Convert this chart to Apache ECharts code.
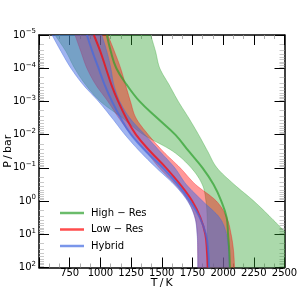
<!DOCTYPE html>
<html>
<head>
<meta charset="utf-8">
<script src="https://cdn.jsdelivr.net/npm/echarts@6/dist/echarts.min.js"></script>
<style>
html,body{margin:0;padding:0;background:#fff;}
#c{width:299px;height:301px;}
</style>
</head>
<body>
<div id="c"></div>
<script>
// Pressure grid (bar)
const pressure = [1e-5, 3.16e-5, 1e-4, 3.16e-4, 1e-3, 3.16e-3, 1e-2, 3.16e-2, 1e-1, 3.16e-1, 1, 3.16, 10, 31.6, 100];

// High-Res (green)
const highResMed = [1053, 1085, 1130, 1215, 1320, 1463, 1610, 1720, 1832, 1922, 1985, 2029, 2040, 2050, 2055];
const highResLo  = [630, 720, 790, 880, 1000, 1180, 1350, 1590, 1740, 1830, 1860, 1870, 1872, 1872, 1872];
const highResHi  = [1410, 1450, 1484, 1560, 1635, 1720, 1800, 1874, 1950, 2090, 2250, 2390, 2520, 2620, 2700];

// Low-Res (red)
const lowResMed = [947, 1000, 1045, 1090, 1145, 1210, 1290, 1405, 1535, 1650, 1748, 1815, 1855, 1868, 1874];
const lowResLo  = [793, 841, 890, 963, 1061, 1150, 1250, 1370, 1480, 1610, 1715, 1772, 1790, 1793, 1795];
const lowResHi  = [1061, 1115, 1165, 1205, 1245, 1290, 1390, 1510, 1650, 1775, 1945, 2030, 2065, 2085, 2093];

// Hybrid (blue)
const hybridMed = [890, 935, 985, 1035, 1095, 1165, 1250, 1370, 1510, 1630, 1730, 1810, 1860, 1878, 1885];
const hybridLo  = [606, 680, 760, 860, 985, 1095, 1200, 1320, 1455, 1600, 1710, 1770, 1788, 1793, 1793];
const hybridHi  = [1012, 1053, 1085, 1110, 1158, 1240, 1362, 1484, 1606, 1700, 1833, 1971, 2028, 2045, 2053];

const xTickMin = 500, xTickMax = 2500, xTickStep = 250;
const seriesNames = ['High \u2212 Res', 'Low \u2212 Res', 'Hybrid'];

const FONT = 'DejaVu Sans';
const GREEN = '#2ca02c', RED = '#ff0000', BLUE = '#4169e1';

function rgba(hex, a) {
  const n = parseInt(hex.slice(1), 16);
  return 'rgba(' + ((n >> 16) & 255) + ',' + ((n >> 8) & 255) + ',' + (n & 255) + ',' + a + ')';
}

// Catmull-Rom resampling of pixel points (already mapped through the axes)
function catmull(pts, n) {
  const out = [];
  const L = pts.length;
  for (let i = 0; i < L - 1; i++) {
    const p0 = pts[Math.max(i - 1, 0)], p1 = pts[i], p2 = pts[i + 1], p3 = pts[Math.min(i + 2, L - 1)];
    for (let k = 0; k < n; k++) {
      const t = k / n, t2 = t * t, t3 = t2 * t;
      const f = (a, b, c, d) => 0.5 * ((2 * b) + (-a + c) * t + (2 * a - 5 * b + 4 * c - d) * t2 + (-a + 3 * b - 3 * c + d) * t3);
      out.push([f(p0[0], p1[0], p2[0], p3[0]), f(p0[1], p1[1], p2[1], p3[1])]);
    }
  }
  out.push(pts[L - 1]);
  return out;
}

function band(lo, hi, color, alpha, z) {
  return {
    type: 'custom',
    coordinateSystem: 'cartesian2d',
    xAxisIndex: 0, yAxisIndex: 0,
    clip: true,
    silent: true,
    z: z,
    data: [[lo[0], pressure[0]]],
    encode: { x: 0, y: 1 },
    renderItem: function (params, api) {
      const left = pressure.map((p, i) => api.coord([lo[i], p]));
      const right = pressure.map((p, i) => api.coord([hi[i], p]));
      const pts = catmull(left, 8).concat(catmull(right, 8).reverse());
      return {
        type: 'polygon',
        shape: { points: pts },
        style: { fill: rgba(color, alpha), stroke: rgba(color, alpha), lineWidth: 0.8 }
      };
    }
  };
}

function line(name, med, color, z) {
  return {
    type: 'line',
    name: name,
    xAxisIndex: 0, yAxisIndex: 0,
    data: med.map((t, i) => [t, pressure[i]]),
    showSymbol: false,
    smooth: 0.4,
    clip: true,
    z: z,
    itemStyle: { color: rgba(color, 0.7) },
    lineStyle: { color: rgba(color, 0.7), width: 2 }
  };
}

const axisCommon = {
  axisLine: { show: true, onZero: false, lineStyle: { color: '#000', width: 1.5 } },
  splitLine: { show: false }
};

const option = {
  animation: false,
  backgroundColor: '#fff',
  grid: { left: 39, right: 14.5, top: 35, bottom: 33.5, containLabel: false, outerBoundsMode: 'none' },
  legend: {
    orient: 'vertical',
    left: 55,
    top: 202,
    icon: 'rect',
    itemWidth: 24,
    itemHeight: 2.5,
    itemGap: 4.5,
    data: seriesNames,
    textStyle: { fontFamily: FONT, fontSize: 10, color: '#000', lineHeight: 12, padding: [0, 0, 0, 2] }
  },
  xAxis: [
    Object.assign({}, axisCommon, {
      type: 'value', position: 'bottom', min: xTickMin, max: xTickMax, interval: xTickStep,
      name: 'T\u2009/\u2009K', nameLocation: 'middle', nameGap: 10, nameMoveOverlap: false,
      nameTextStyle: { fontFamily: FONT, fontSize: 11, color: '#000' },
      axisTick: { show: true, inside: true, length: 10, lineStyle: { color: '#000', width: 1 } },
      minorTick: { show: true, splitNumber: 3, length: 4, lineStyle: { color: '#999', width: 0.8 } },
      axisLabel: {
        fontFamily: FONT, fontSize: 10, color: '#000', margin: 1,
        formatter: v => (v === xTickMin ? '' : String(v))
      }
    }),
    Object.assign({}, axisCommon, {
      type: 'value', position: 'top', min: xTickMin, max: xTickMax, interval: xTickStep,
      axisTick: { show: true, inside: true, length: 10, lineStyle: { color: '#000', width: 1 } },
      minorTick: { show: true, splitNumber: 3, length: 4, lineStyle: { color: '#999', width: 0.8 } },
      axisLabel: { show: false }
    })
  ],
  yAxis: [
    Object.assign({}, axisCommon, {
      type: 'log', logBase: 10, inverse: true, position: 'left', min: 1e-5, max: 1e2, interval: 1,
      name: 'P\u2009/\u2009bar', nameLocation: 'middle', nameGap: 25, nameRotate: 90, nameMoveOverlap: false,
      nameTextStyle: { fontFamily: FONT, fontSize: 11, color: '#000' },
      axisTick: { show: true, inside: true, length: 10, lineStyle: { color: '#000', width: 1 } },
      minorTick: { show: true, splitNumber: 10, length: 5, lineStyle: { color: '#bbb', width: 0.8 } },
      axisLabel: {
        margin: 3,
        formatter: function (v) {
          const e = Math.round(Math.log10(v));
          const s = e < 0 ? '\u2212' + (-e) : String(e);
          return '{b|10}{s|' + s + '}';
        },
        rich: {
          b: { fontFamily: FONT, fontSize: 10, color: '#000', lineHeight: 14 },
          s: { fontFamily: FONT, fontSize: 7, color: '#000', verticalAlign: 'top', lineHeight: 8 }
        }
      }
    }),
    Object.assign({}, axisCommon, {
      type: 'log', logBase: 10, inverse: true, position: 'right', min: 1e-5, max: 1e2, interval: 1,
      axisTick: { show: true, inside: true, length: 10, lineStyle: { color: '#000', width: 1 } },
      minorTick: { show: true, splitNumber: 10, length: 5, lineStyle: { color: '#bbb', width: 0.8 } },
      axisLabel: { show: false }
    })
  ],
  series: [
    band(highResLo, highResHi, GREEN, 0.4, 1),
    band(lowResLo, lowResHi, RED, 0.4, 2),
    band(hybridLo, hybridHi, BLUE, 0.5, 3),
    line(seriesNames[0], highResMed, GREEN, 5),
    line(seriesNames[1], lowResMed, RED, 5),
    line(seriesNames[2], hybridMed, BLUE, 5)
  ]
};

const chart = echarts.init(document.getElementById('c'), null, { renderer: 'canvas' });
chart.setOption(option);
</script>
</body>
</html>
